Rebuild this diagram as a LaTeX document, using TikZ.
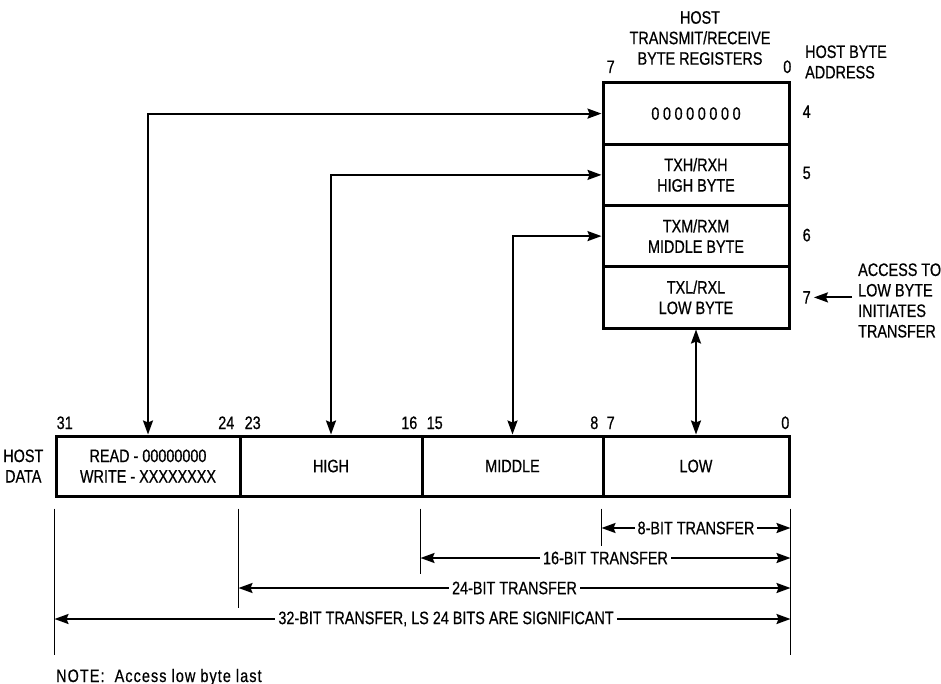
\documentclass[tikz,border=0pt]{standalone}
\usepackage{fontspec}
\setmainfont{Liberation Sans}[FakeStretch=0.8, FakeBold=0.6]
\usetikzlibrary{arrows.meta, positioning, calc}

\tikzset{
    reg/.style={draw, line width=3pt, minimum width=186pt, minimum height=61.25pt, inner sep=0pt, align=center},
    cell/.style={draw, line width=3pt, minimum height=60pt, inner sep=0pt, align=center},
    bitno/.style={inner sep=0pt},
    link/.style={<->, line width=2pt},
    xfer/.style={<->, line width=2pt},
    extline/.style={line width=1.5pt},
    xlabel/.style={fill=white, inner sep=3pt}
}

\begin{document}
\begin{tikzpicture}[
    x=1pt, y=-1pt,
    >={Stealth[length=14pt, width=10pt, inset=2pt]},
    font=\fontsize{18}{20.5}\selectfont
]

\useasboundingbox (0,0) rectangle (941,684);

% =========================================================
% TOP: host transmit/receive byte registers
% =========================================================
\node[reg] (r4) at (696,113.6) {\addfontfeature{LetterSpace=20}00000000};
\node[reg] (r5) at (696,174.9) {TXH/RXH\\HIGH BYTE};
\node[reg] (r6) at (696,236.1) {TXM/RXM\\MIDDLE BYTE};
\node[reg] (r7) at (696,297.4) {TXL/RXL\\LOW BYTE};

% titles
\node[align=center] (regtitle) at (700,38) {HOST\\TRANSMIT/RECEIVE\\BYTE REGISTERS};
\node[bitno, anchor=base west] (rhi) at ($(r4.north west)+(5,-8.5)$) {7};
\node[bitno, anchor=base east] (rlo) at ($(r4.north east)+(1,-8.5)$) {0};
\node[align=left, anchor=west, inner sep=0pt] (addrtitle) at (805,62) {HOST BYTE\\ADDRESS};

% byte addresses
\node[bitno, anchor=west] (a4) at ($(r4.east)+(12,-2)$) {4};
\node[bitno, anchor=west] (a5) at ($(r5.east)+(12,-2)$) {5};
\node[bitno, anchor=west] (a6) at ($(r6.east)+(12,-1)$) {6};
\node[bitno, anchor=west] (a7) at ($(r7.east)+(12,0)$) {7};

\node[align=left, anchor=west, inner sep=0pt] (access) at (858,300.5) {ACCESS TO\\LOW BYTE\\INITIATES\\TRANSFER};
\draw[->, line width=2pt] ([xshift=-6pt]access.west |- a7.east) -- ([xshift=3pt]a7.east);

% =========================================================
% BOTTOM: host data
% =========================================================
\node[cell, minimum width=184pt] (d3) at (148,466) {READ - 00000000\\WRITE - XXXXXXXX};
\node[cell, minimum width=182pt] (d2) at (331,466) {HIGH};
\node[cell, minimum width=181pt] (d1) at (512.5,466) {MIDDLE};
\node[cell, minimum width=186pt] (d0) at (696,466) {LOW};

\node[align=center, anchor=east, inner sep=0pt] (hostdata) at ($(d3.west)+(-11,0)$) {HOST\\DATA};

% bit numbers
\node[bitno, anchor=base west] (b31) at ($(d3.north west)+(2,-5.5)$) {31};
\node[bitno, anchor=base east] (b24) at ($(d3.north east)+(-7,-5.5)$) {24};
\node[bitno, anchor=base west] (b23) at ($(d2.north west)+(6,-5.5)$) {23};
\node[bitno, anchor=base east] (b16) at ($(d2.north east)+(-6,-5.5)$) {16};
\node[bitno, anchor=base west] (b15) at ($(d1.north west)+(6,-5.5)$) {15};
\node[bitno, anchor=base east] (b8) at ($(d1.north east)+(-6,-5.5)$) {8};
\node[bitno, anchor=base west] (b7) at ($(d0.north west)+(5,-5.5)$) {7};
\node[bitno, anchor=base east] (b0) at ($(d0.north east)+(-1,-5.5)$) {0};

% links between bytes and registers
\draw[link] (d3.north) |- (r4.west);
\draw[link] (d2.north) |- (r5.west);
\draw[link] (d1.north) |- (r6.west);
\draw[link] (r7.south) -- (d0.north);

% extension lines
\draw[extline] (d3.south west) ++(0,11) -- ++(0,146);
\draw[extline] (d2.south west) ++(0,11) -- ++(0,99);
\draw[extline] (d1.south west) ++(0,11) -- ++(0,65);
\draw[extline] (d0.south west) ++(0,11) -- ++(0,37);
\draw[extline] (d0.south east) ++(0,11) -- ++(0,146);

% transfer widths
\coordinate (t8) at (0,528);
\coordinate (t16) at (0,558);
\coordinate (t24) at (0,588);
\coordinate (t32) at (0,619);
\draw[xfer] (d0.south west |- t8) -- node[xlabel] {8-BIT TRANSFER} (d0.south east |- t8);
\draw[xfer] (d1.south west |- t16) -- node[xlabel] {16-BIT TRANSFER} (d0.south east |- t16);
\draw[xfer] (d2.south west |- t24) -- node[xlabel] {24-BIT TRANSFER} (d0.south east |- t24);
\draw[xfer] (d3.south west |- t32) -- node[xlabel, pos=0.532] {32-BIT TRANSFER, LS 24 BITS ARE SIGNIFICANT} (d0.south east |- t32);

\node[anchor=base west, inner sep=0pt] (note) at (56,682) {\addfontfeature{LetterSpace=6}NOTE:\ \ Access low byte last};

\end{tikzpicture}
\end{document}
